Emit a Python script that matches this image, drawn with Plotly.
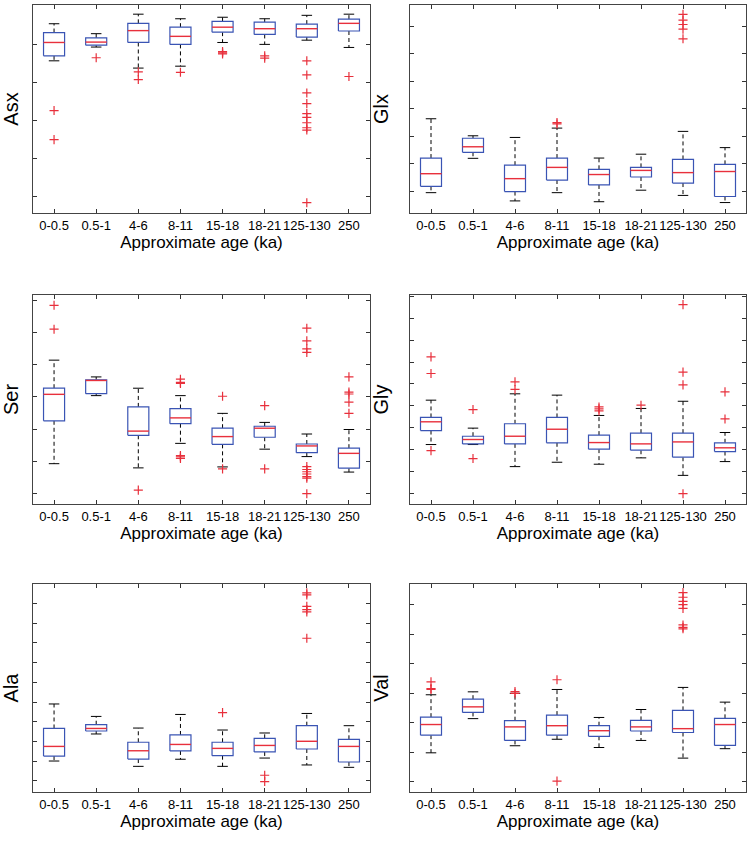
import plotly.graph_objects as go
from plotly.subplots import make_subplots

AGES = ["0-0.5", "0.5-1", "4-6", "8-11", "15-18", "18-21", "125-130", "250"]

# values in tick units (y tick labels are hidden in the original)
ASX_UPPER = [5.53, 5.27, 5.78, 5.66, 5.70, 5.66, 5.75, 5.78]
ASX_Q3 = [5.30, 5.16, 5.54, 5.44, 5.59, 5.57, 5.52, 5.65]
ASX_MED = [5.04, 5.05, 5.35, 5.20, 5.44, 5.40, 5.40, 5.54]
ASX_Q1 = [4.69, 4.97, 5.04, 4.99, 5.31, 5.25, 5.18, 5.34]
ASX_LOWER = [4.56, 4.92, 4.37, 4.42, 5.04, 4.99, 5.10, 4.91]
ASX_OUT = [
    [3.26, 2.50], [4.64], [4.27, 4.07], [4.26], [4.80, 4.77, 4.74], [4.69, 4.63],
    [4.56, 4.19, 3.72, 3.44, 3.18, 3.08, 2.94, 2.81, 2.75, 0.85], [4.15],
]

GLX_UPPER = [3.64, 3.02, 2.96, 3.30, 2.21, 2.35, 3.18, 2.59]
GLX_Q3 = [2.21, 2.93, 1.95, 2.21, 1.80, 1.87, 2.16, 1.98]
GLX_MED = [1.64, 2.62, 1.46, 1.87, 1.61, 1.76, 1.68, 1.72]
GLX_Q1 = [1.18, 2.42, 0.99, 1.41, 1.23, 1.52, 1.30, 0.81]
GLX_LOWER = [0.95, 2.20, 0.65, 0.95, 0.62, 1.04, 0.85, 0.59]
GLX_OUT = [[], [], [], [3.50, 3.45], [], [], [7.44, 7.23, 7.07, 6.90, 6.55], []]

SER_UPPER = [5.14, 4.62, 4.27, 4.04, 3.49, 3.21, 2.85, 2.99]
SER_Q3 = [4.27, 4.53, 3.69, 3.64, 3.03, 3.09, 2.54, 2.41]
SER_MED = [4.08, 4.51, 2.94, 3.35, 2.77, 3.03, 2.48, 2.25]
SER_Q1 = [3.26, 4.10, 2.81, 3.17, 2.53, 2.75, 2.27, 1.79]
SER_LOWER = [1.93, 4.04, 1.80, 2.56, 1.83, 2.38, 2.15, 1.67]
SER_OUT = [
    [6.84, 6.10], [], [1.11], [4.55, 4.45, 4.42, 2.18, 2.14, 2.09], [4.02, 1.77],
    [3.73, 1.77], [6.13, 5.74, 5.49, 5.38, 1.84, 1.75, 1.68, 1.61, 1.53, 1.48, 1.00],
    [4.62, 4.15, 4.09, 3.84, 3.49],
]

GLY_UPPER = [5.26, 3.98, 5.55, 5.49, 4.56, 4.88, 5.21, 3.78]
GLY_Q3 = [4.47, 3.61, 4.18, 4.47, 3.66, 3.75, 3.75, 3.31]
GLY_MED = [4.27, 3.46, 3.61, 3.93, 3.32, 3.26, 3.35, 3.08]
GLY_Q1 = [3.87, 3.26, 3.26, 3.31, 3.02, 2.97, 2.65, 2.91]
GLY_LOWER = [3.23, 3.23, 2.22, 2.42, 2.33, 2.62, 1.82, 2.45]
GLY_OUT = [
    [7.24, 6.48, 2.95], [4.83, 2.59], [6.10, 5.75], [], [4.95, 4.86, 4.77], [5.03],
    [9.63, 6.54, 5.96, 0.98], [5.64, 4.40],
]

ALA_UPPER = [4.90, 4.27, 3.68, 4.37, 3.58, 3.43, 4.42, 3.80]
ALA_Q3 = [3.66, 3.85, 2.96, 3.33, 2.96, 3.16, 3.80, 3.11]
ALA_MED = [2.75, 3.66, 2.53, 2.85, 2.65, 2.80, 3.01, 2.75]
ALA_Q1 = [2.26, 3.53, 2.11, 2.52, 2.28, 2.47, 2.62, 1.96]
ALA_LOWER = [2.01, 3.38, 1.74, 2.10, 1.74, 2.16, 1.81, 1.69]
ALA_OUT = [
    [], [], [], [], [4.46], [1.29, 0.97],
    [10.53, 10.43, 9.85, 9.68, 9.57, 8.23], [],
]

VAL_UPPER = [3.95, 4.05, 4.00, 4.13, 3.18, 3.45, 4.20, 3.70]
VAL_Q3 = [3.19, 3.80, 3.07, 3.26, 2.90, 3.08, 3.42, 3.15]
VAL_MED = [2.94, 3.54, 2.86, 2.90, 2.73, 2.86, 2.80, 2.94]
VAL_Q1 = [2.58, 3.35, 2.40, 2.58, 2.54, 2.72, 2.67, 2.23]
VAL_LOWER = [1.98, 3.14, 2.22, 2.44, 2.16, 2.40, 1.80, 2.12]
VAL_OUT = [
    [4.39, 4.16, 4.13], [], [4.06, 4.00], [4.46, 1.02], [], [],
    [7.42, 7.26, 7.12, 7.01, 6.88, 6.32, 6.24, 6.19], [],
]

PANELS = [
    ("Asx", ASX_UPPER, ASX_Q3, ASX_MED, ASX_Q1, ASX_LOWER, ASX_OUT, [0.58, 6.02]),
    ("Glx", GLX_UPPER, GLX_Q3, GLX_MED, GLX_Q1, GLX_LOWER, GLX_OUT, [0.21, 7.78]),
    ("Ser", SER_UPPER, SER_Q3, SER_MED, SER_Q1, SER_LOWER, SER_OUT, [0.68, 7.16]),
    ("Gly", GLY_UPPER, GLY_Q3, GLY_MED, GLY_Q1, GLY_LOWER, GLY_OUT, [0.51, 10.07]),
    ("Ala", ALA_UPPER, ALA_Q3, ALA_MED, ALA_Q1, ALA_LOWER, ALA_OUT, [0.44, 10.98]),
    ("Val", VAL_UPPER, VAL_Q3, VAL_MED, VAL_Q1, VAL_LOWER, VAL_OUT, [0.65, 7.71]),
]

BOX_HALF = 0.25
CAP_HALF = 0.125
BLUE = "#3a54b4"
RED = "#e8303c"
FONT = "Liberation Sans, Arial, sans-serif"

W, H = 753, 841
X_DOMAINS = [[33 / W, 370 / W], [410 / W, 746 / W]]
Y_DOMAINS = [
    [1 - 213 / H, 1 - 5 / H],
    [1 - 504 / H, 1 - 295 / H],
    [1 - 792 / H, 1 - 584 / H],
]

fig = make_subplots(rows=3, cols=2)


def add_panel(fig, row, col, upper, q3, med, q1, lower, outliers):
    xs = list(range(1, len(AGES) + 1))
    bx, by, mx, my, wx, wy, cx, cy, ox, oy = [], [], [], [], [], [], [], [], [], []
    for i, x in enumerate(xs):
        bx += [x - BOX_HALF, x + BOX_HALF, x + BOX_HALF, x - BOX_HALF, x - BOX_HALF, None]
        by += [q1[i], q1[i], q3[i], q3[i], q1[i], None]
        mx += [x - BOX_HALF, x + BOX_HALF, None]
        my += [med[i], med[i], None]
        wx += [x, x, None, x, x, None]
        wy += [q3[i], upper[i], None, q1[i], lower[i], None]
        cx += [x - CAP_HALF, x + CAP_HALF, None, x - CAP_HALF, x + CAP_HALF, None]
        cy += [upper[i], upper[i], None, lower[i], lower[i], None]
        for v in outliers[i]:
            ox.append(x)
            oy.append(v)

    fig.add_trace(go.Scatter(x=wx, y=wy, mode="lines",
                             line=dict(color="black", width=1, dash="4px,3px")),
                  row=row, col=col)
    fig.add_trace(go.Scatter(x=cx, y=cy, mode="lines",
                             line=dict(color="black", width=1)),
                  row=row, col=col)
    fig.add_trace(go.Scatter(x=bx, y=by, mode="lines", fill="toself",
                             fillcolor="white", line=dict(color=BLUE, width=1.2)),
                  row=row, col=col)
    fig.add_trace(go.Scatter(x=mx, y=my, mode="lines",
                             line=dict(color=RED, width=1.4)),
                  row=row, col=col)
    fig.add_trace(go.Scatter(x=ox, y=oy, mode="markers",
                             marker=dict(symbol="cross-thin", size=6.5,
                                         line=dict(color=RED, width=1.2))),
                  row=row, col=col)


for k, (name, up, q3, med, q1, lo, out, yr) in enumerate(PANELS):
    row, col = k // 2 + 1, k % 2 + 1
    add_panel(fig, row, col, up, q3, med, q1, lo, out)
    fig.update_xaxes(
        domain=X_DOMAINS[col - 1], range=[0.5, 8.5], automargin=False,
        tickmode="array", tickvals=list(range(1, 9)), ticktext=AGES, tickangle=0,
        ticks="inside", ticklen=4, tickcolor="#333", mirror="ticks",
        showline=True, linecolor="#444", linewidth=1, showgrid=False, zeroline=False,
        tickfont=dict(family=FONT, size=13, color="black"),
        title=dict(text="Approximate age (ka)", standoff=2,
                   font=dict(family=FONT, size=17, color="black")),
        row=row, col=col,
    )
    fig.update_yaxes(
        domain=Y_DOMAINS[row - 1], range=yr, dtick=1, tick0=0, automargin=False,
        ticks="inside", ticklen=4, tickcolor="#333", mirror="ticks",
        showline=True, linecolor="#444", linewidth=1, showgrid=False, zeroline=False,
        showticklabels=False,
        title=dict(text=name, standoff=15,
                   font=dict(family=FONT, size=20, color="black")),
        row=row, col=col,
    )

fig.update_layout(
    width=W, height=H,
    margin=dict(l=0, r=0, t=0, b=0),
    showlegend=False,
    hovermode=False,
    plot_bgcolor="white",
    paper_bgcolor="white",
)

# drop the browser's default 8px body margin so the figure sits at the page corner
fig.write_html("out.html", config={"displayModeBar": False},
               post_script="document.body.style.margin='0';")
